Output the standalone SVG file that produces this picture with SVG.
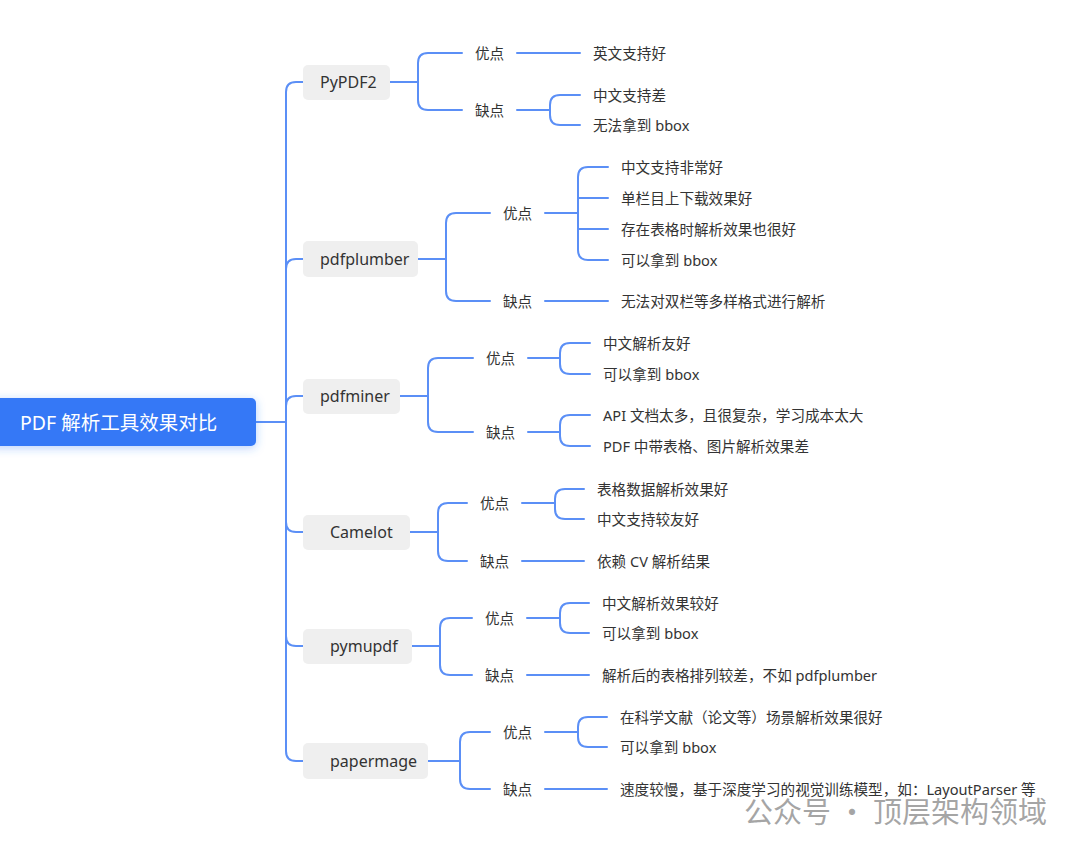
<svg xmlns="http://www.w3.org/2000/svg" width="1080" height="852" viewBox="0 0 1080 852">
<defs>
<filter id="sh" x="-20%" y="-50%" width="140%" height="200%"><feDropShadow dx="0" dy="2" stdDeviation="5" flood-color="#3478f6" flood-opacity="0.35"/></filter>
<style>
.c{fill:none;stroke:#5b8ff6;stroke-width:2;stroke-linecap:round}
.n{fill:#efefef}
.bt{font-family:"Noto Sans","Noto Sans CJK SC",sans-serif;font-size:16px;fill:#333;dominant-baseline:central}
.t{font-family:"Noto Sans","Noto Sans CJK SC",sans-serif;font-size:14.6px;fill:#333;dominant-baseline:central}
</style>
</defs>
<rect width="1080" height="852" fill="#fff"/>
<g id="connectors" class="c">
<path d="M248 422H286M286 92V751M286 92Q286 82 296 82H303M286 269Q286 259 296 259H303M286 406Q286 396 296 396H303M286 522Q286 532 296 532H303M286 636Q286 646 296 646H303M286 751Q286 761 296 761H303"/>
<path d="M390 82H418M418 63V100M418 63Q418 53 428 53H462M418 100Q418 110 428 110H462M517 53H580M517 110H550M550 105V115M550 105Q550 95 560 95H580M550 115Q550 125 560 125H580"/>
<path d="M418 259H446M446 223V291M446 223Q446 213 456 213H490M446 291Q446 301 456 301H490M545 213H578M578 177V250M578 177Q578 167 588 167H608M578 198H608M578 229H608M578 250Q578 260 588 260H608M545 301H608"/>
<path d="M400 396H428M428 368V422M428 368Q428 358 438 358H473M428 422Q428 432 438 432H473M528 358H560M560 353V364M560 353Q560 343 570 343H590M560 364Q560 374 570 374H590M528 432H560M560 425V436M560 425Q560 415 570 415H590M560 436Q560 446 570 446H590"/>
<path d="M410 532H438M438 513V551M438 513Q438 503 448 503H467M438 551Q438 561 448 561H467M522 503H555M555 499V509M555 499Q555 489 565 489H584M555 509Q555 519 565 519H584M522 561H584"/>
<path d="M412 646H440M440 628V665M440 628Q440 618 450 618H472M440 665Q440 675 450 675H472M527 618H560M560 613V623M560 613Q560 603 570 603H589M560 623Q560 633 570 633H589M527 675H589"/>
<path d="M428 761H460M460 742V779M460 742Q460 732 470 732H490M460 779Q460 789 470 789H490M545 732H578M578 727V737M578 727Q578 717 588 717H607M578 737Q578 747 588 747H607M545 789H607"/>
</g>
<g id="root"><rect x="-10" y="398" width="266" height="48" rx="5" fill="#3478f6" filter="url(#sh)"/><text x="20" y="422" class="bt" style="fill:#fff;font-size:19.5px">PDF 解析工具效果对比</text></g>
<g id="n-pypdf2"><rect class="n" x="303" y="65" width="87" height="35" rx="5"/><text class="bt" x="320" y="82">PyPDF2</text></g>
<g id="n-pdfplumber"><rect class="n" x="303" y="241" width="115" height="36" rx="5"/><text class="bt" x="320" y="259">pdfplumber</text></g>
<g id="n-pdfminer"><rect class="n" x="303" y="379" width="97" height="35" rx="5"/><text class="bt" x="320" y="396">pdfminer</text></g>
<g id="n-camelot"><rect class="n" x="303" y="515" width="107" height="35" rx="5"/><text class="bt" x="330" y="532">Camelot</text></g>
<g id="n-pymupdf"><rect class="n" x="303" y="629" width="109" height="35" rx="5"/><text class="bt" x="330" y="646">pymupdf</text></g>
<g id="n-papermage"><rect class="n" x="303" y="743" width="125" height="36" rx="5"/><text class="bt" x="330" y="761">papermage</text></g>
<g id="leaves">
<text class="t" x="475" y="53">优点</text><text class="t" x="475" y="110">缺点</text>
<text class="t" x="593" y="53">英文支持好</text><text class="t" x="593" y="95">中文支持差</text><text class="t" x="593" y="125">无法拿到 bbox</text>
<text class="t" x="503" y="213">优点</text><text class="t" x="503" y="301">缺点</text>
<text class="t" x="621" y="167">中文支持非常好</text><text class="t" x="621" y="198">单栏目上下载效果好</text><text class="t" x="621" y="229">存在表格时解析效果也很好</text><text class="t" x="621" y="260">可以拿到 bbox</text><text class="t" x="621" y="301">无法对双栏等多样格式进行解析</text>
<text class="t" x="486" y="358">优点</text><text class="t" x="486" y="432">缺点</text>
<text class="t" x="603" y="343">中文解析友好</text><text class="t" x="603" y="374">可以拿到 bbox</text><text class="t" x="603" y="415">API 文档太多，且很复杂，学习成本太大</text><text class="t" x="603" y="446">PDF 中带表格、图片解析效果差</text>
<text class="t" x="480" y="503">优点</text><text class="t" x="480" y="561">缺点</text>
<text class="t" x="597" y="489">表格数据解析效果好</text><text class="t" x="597" y="519">中文支持较友好</text><text class="t" x="597" y="561">依赖 CV 解析结果</text>
<text class="t" x="485" y="618">优点</text><text class="t" x="485" y="675">缺点</text>
<text class="t" x="602" y="603">中文解析效果较好</text><text class="t" x="602" y="633">可以拿到 bbox</text><text class="t" x="602" y="675">解析后的表格排列较差，不如 pdfplumber</text>
<text class="t" x="503" y="732">优点</text><text class="t" x="503" y="789">缺点</text>
<text class="t" x="620" y="717">在科学文献（论文等）场景解析效果很好</text><text class="t" x="620" y="747">可以拿到 bbox</text><text class="t" x="620" y="789">速度较慢，基于深度学习的视觉训练模型，如：LayoutParser 等</text>
</g>
<text x="744" y="810" style="font-family:'Noto Sans CJK SC',sans-serif;font-size:29px;fill:#888;fill-opacity:0.75;dominant-baseline:central">公众号 · 顶层架构领域</text>
</svg>
